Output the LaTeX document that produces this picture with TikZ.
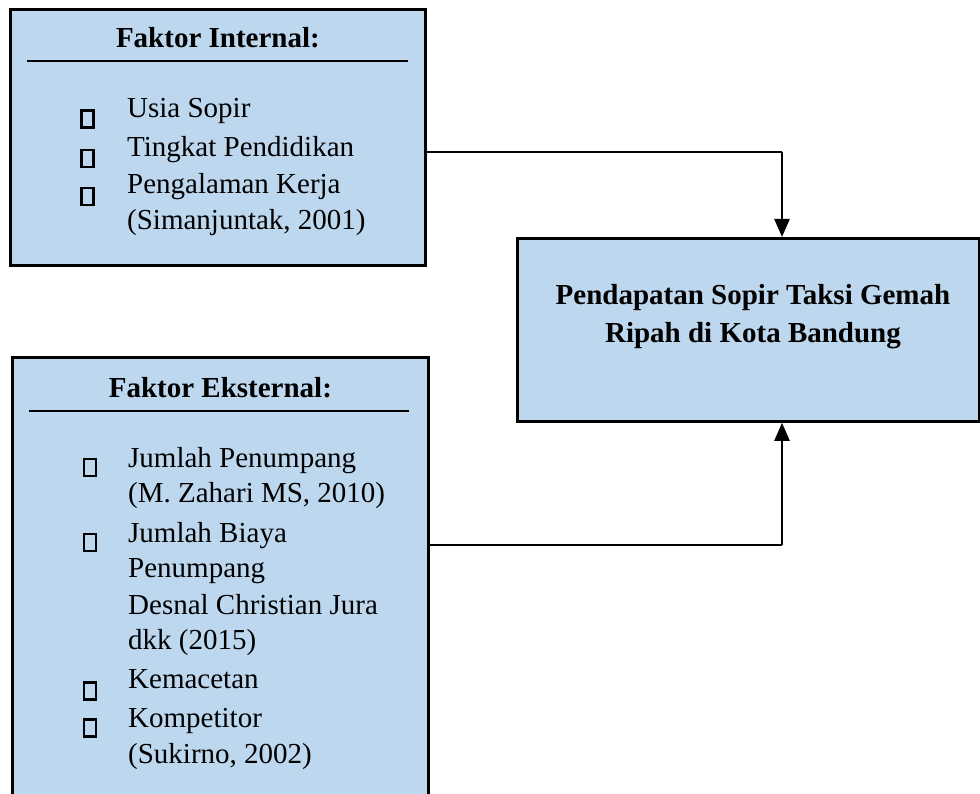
\documentclass[tikz,border=0pt]{standalone}
\usepackage{fontspec}
\setmainfont{Liberation Serif}
\usepackage{tikz}
\usetikzlibrary{shapes,arrows,arrows.meta,positioning}
\definecolor{boxblue}{RGB}{189,215,238}
\tikzstyle{faktor} = [draw=black, fill=boxblue, line width=2.8pt, inner sep=0pt, anchor=north west]
\tikzstyle{arrow} = [line width=2.4pt,-{Triangle[width=15pt,length=18pt]}]
\tikzstyle{link} = [line width=1.3pt]

\begin{document}
\begin{tikzpicture}[x=1pt,y=-1pt]
\tikzstyle{every node}=[font=\fontsize{29}{38}\selectfont]
\tikzstyle{judul}=[font=\fontsize{29}{38}\selectfont\bfseries, anchor=base, inner sep=0pt]
\tikzstyle{butir}=[anchor=base west, inner sep=0pt]
\tikzstyle{kotak}=[draw, line width=2.4pt, minimum width=12pt, minimum height=17pt, inner sep=0pt]

\useasboundingbox (0,0) rectangle (980,794);
\clip (0,0) rectangle (980,794);

%% Faktor Internal
\node[faktor, minimum width=415pt, minimum height=256pt] (internal) at (9,8) {};
\node[judul] (judulint) at (internal.north |- 0,48) {Faktor Internal:};
\draw[line width=2pt] (27,61) -- (408,61);
\foreach \y/\txt [count=\k] in {118/Usia Sopir, 157/Tingkat Pendidikan,
    194/Pengalaman Kerja, 230/{(Simanjuntak, 2001)}}
    \node[butir] (int\k) at (127,\y) {\txt};
\foreach \y [count=\k] in {119,158.5,196.5}
    \node[kotak] (bint\k) at (87.5,\y) {};

%% Faktor Eksternal
\node[faktor, minimum width=416pt, minimum height=470pt] (eksternal) at (11,356) {};
\node[judul] (judulekst) at (eksternal.north |- 0,397) {Faktor Eksternal:};
\draw[line width=2pt] (29,411) -- (409,411);
\foreach \y/\txt [count=\k] in {467/Jumlah Penumpang, 502/{(M. Zahari MS, 2010)},
    542/Jumlah Biaya, 577/Penumpang, 614/Desnal Christian Jura, 649/dkk (2015),
    688/Kemacetan, 727/Kompetitor, 763/{(Sukirno, 2002)}}
    \node[butir] (ekst\k) at (128,\y) {\txt};
\foreach \y [count=\k] in {467.5,542.5,691,728}
    \node[kotak] (bekst\k) at (90,\y) {};

%% Pendapatan
\node[faktor, minimum width=462pt, minimum height=183pt] (pendapatan) at (516,237) {};
\node[judul] (teks1) at (753,305) {Pendapatan Sopir Taksi Gemah};
\node[judul] (teks2) at (753,343) {Ripah di Kota Bandung};

%% Connectors
\coordinate (belok1) at (782,152);
\coordinate (belok2) at (782,545);
\draw[link] (internal.east |- belok1) -- (belok1);
\draw[arrow] (belok1) -- (pendapatan.north -| belok1);
\draw[link] (eksternal.east |- belok2) -- (belok2);
\draw[arrow] (belok2) -- (pendapatan.south -| belok2);

\end{tikzpicture}
\end{document}
